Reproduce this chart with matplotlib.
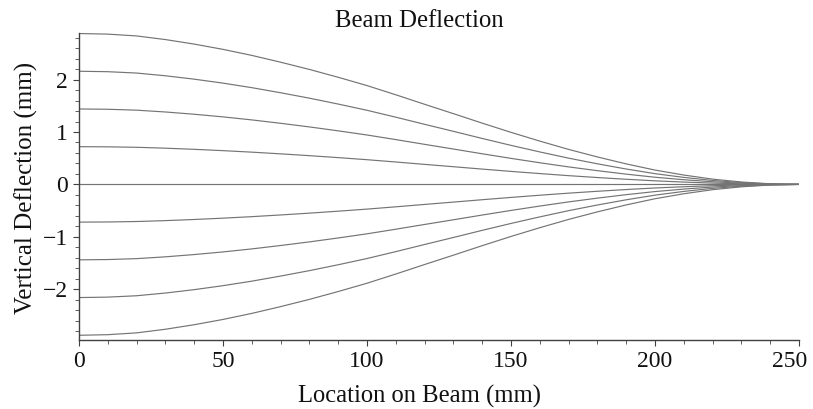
import matplotlib
matplotlib.use("Agg")
import matplotlib.pyplot as plt
from matplotlib.ticker import MultipleLocator, FixedLocator
from matplotlib.transforms import ScaledTranslation

# Location along the beam (mm)
location_mm = [0, 10, 20, 30, 40, 50, 60, 70, 80, 90, 100, 110, 120,
               130, 140, 150, 160, 170, 180, 190, 200, 210, 220, 230, 240, 250]

# Normalised deflection profile along the beam (1 at the free end, 0 at the support)
profile = [1.000, 0.996, 0.984, 0.960, 0.930, 0.895, 0.855, 0.810, 0.762, 0.710,
           0.655, 0.594, 0.531, 0.469, 0.406, 0.345, 0.287, 0.232, 0.182, 0.136,
           0.095, 0.062, 0.035, 0.016, 0.004, 0.000]

# End deflection of each load case (mm)
end_deflection_mm = [2.88, 2.16, 1.44, 0.72, 0.0, -0.72, -1.44, -2.16, -2.88]

y_ticks = [-2, -1, 0, 1, 2]
y_tick_labels = ['\u22122', '\u22121', '0', '1', '2']
x_ticks = [0, 50, 100, 150, 200, 250]

plt.rcParams['font.family'] = ['Liberation Serif', 'DejaVu Serif']

fig = plt.figure(figsize=(8.13, 4.09), dpi=100)
W, H = 813.0, 409.0
ax = fig.add_axes([79 / W, 1 - 340 / H, (799 - 79) / W, (340 - 33) / H])

for d in end_deflection_mm:
    ax.plot(location_mm, [d * p for p in profile], color='#747474', lw=0.85,
            solid_joinstyle='round')

ax.set_xlim(0, 250)
ax.set_ylim(-2.97, 2.89)

for s in ('top', 'right'):
    ax.spines[s].set_visible(False)
for s in ('left', 'bottom'):
    ax.spines[s].set_color('#404040')
    ax.spines[s].set_linewidth(1.0)

ax.xaxis.set_major_locator(FixedLocator(x_ticks))
ax.xaxis.set_minor_locator(MultipleLocator(10))
ax.yaxis.set_major_locator(FixedLocator(y_ticks))
ax.yaxis.set_minor_locator(MultipleLocator(0.2))
ax.set_yticklabels(y_tick_labels)

ax.tick_params(axis='both', which='major', direction='out', length=4, width=0.8,
               color='#404040', labelsize=17, labelcolor='#111111')
ax.tick_params(axis='both', which='minor', direction='out', length=3, width=0.7,
               color='#606060')
ax.tick_params(axis='x', which='major', pad=4)
ax.tick_params(axis='y', which='major', pad=4)

# keep the last x tick label inside the figure
last = ax.get_xticklabels()[-1]
last.set_transform(last.get_transform() + ScaledTranslation(-9 / 100, 0, fig.dpi_scale_trans))

fig.text(419 / W, 1 - 27.3 / H, 'Beam Deflection', ha='center', va='baseline',
         fontsize=17.8, color='#111111')
fig.text(419 / W, 1 - 402.7 / H, 'Location on Beam (mm)', ha='center', va='baseline',
         fontsize=17.7, color='#111111')
fig.text(33 / W, 1 - 188 / H, 'Vertical Deflection (mm)', ha='center', va='baseline',
         rotation=90, rotation_mode='anchor', fontsize=18, color='#111111')

fig.savefig('out.png', dpi=100, facecolor='white')
